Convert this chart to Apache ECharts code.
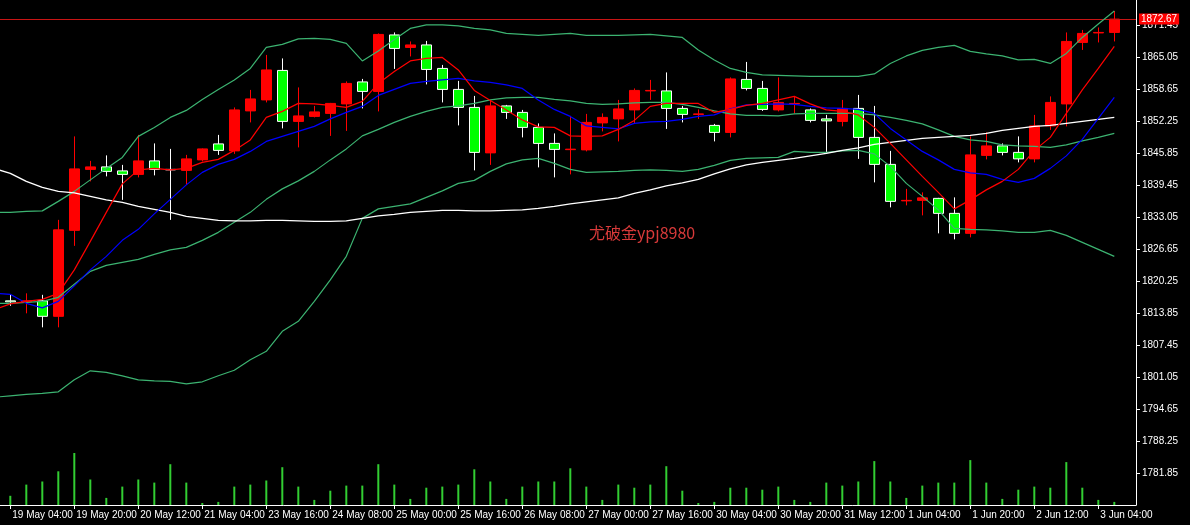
<!DOCTYPE html>
<html>
<head>
<meta charset="utf-8">
<script src="https://cdn.jsdelivr.net/npm/echarts@6/dist/echarts.min.js"></script>
<style>
html,body{margin:0;padding:0;background:#000;}
#c{width:1190px;height:525px;}
</style>
</head>
<body>
<div id="c"></div>
<script>
// Bar times (first bar is the partly hidden one at the left edge)
const categories = [
  '19 May 00:00',
  '19 May 04:00','19 May 08:00','19 May 12:00','19 May 16:00','19 May 20:00',
  '20 May 00:00','20 May 04:00','20 May 08:00','20 May 12:00','20 May 16:00','20 May 20:00',
  '21 May 00:00','21 May 04:00',
  '23 May 04:00','23 May 08:00','23 May 12:00','23 May 16:00','23 May 20:00',
  '24 May 00:00','24 May 04:00','24 May 08:00','24 May 12:00','24 May 16:00','24 May 20:00',
  '25 May 00:00','25 May 04:00','25 May 08:00','25 May 12:00','25 May 16:00','25 May 20:00',
  '26 May 00:00','26 May 04:00','26 May 08:00','26 May 12:00','26 May 16:00','26 May 20:00',
  '27 May 00:00','27 May 04:00','27 May 08:00','27 May 12:00','27 May 16:00','27 May 20:00',
  '28 May 00:00','28 May 04:00',
  '30 May 04:00','30 May 08:00','30 May 12:00','30 May 16:00','30 May 20:00',
  '31 May 00:00','31 May 04:00','31 May 08:00','31 May 12:00','31 May 16:00','31 May 20:00',
  '1 Jun 00:00','1 Jun 04:00','1 Jun 08:00','1 Jun 12:00','1 Jun 16:00','1 Jun 20:00',
  '2 Jun 00:00','2 Jun 04:00','2 Jun 08:00','2 Jun 12:00','2 Jun 16:00','2 Jun 20:00',
  '3 Jun 00:00','3 Jun 04:00','3 Jun 08:00'
];
const firstBar = -1;
// bars that carry a time label
const tickBars = [0,4,8,12,16,20,24,28,32,36,40,44,48,52,56,60,64,68];

const opens = [
  1823.3,1816.3,1816.1,1816.3,1813.2,1830.4,1842.6,1843.1,1842.3,1841.6,
  1844.3,1842.6,1842.4,1844.5,1847.7,1846.3,1854.3,1856.5,1862.4,1852.2,
  1853.2,1853.8,1855.7,1860.1,1858.2,1869.5,1867.0,1867.5,1862.8,1858.6,
  1855.0,1845.9,1855.3,1854.0,1851.0,1847.8,1846.55,1846.5,1851.9,1852.7,
  1854.5,1858.3,1858.3,1854.8,1853.6,1851.4,1850.0,1860.6,1858.8,1854.5,
  1855.7,1854.5,1852.7,1852.2,1854.8,1849.0,1843.6,1836.3,1836.4,1836.8,
  1833.8,1829.8,1845.4,1847.3,1846.0,1844.7,1851.3,1855.7,1868.0,1869.9,1870.0
];
const closes = [
  1816.5,1816.1,1816.3,1813.2,1830.5,1842.7,1843.1,1842.2,1841.6,1844.3,
  1842.6,1842.5,1844.7,1846.7,1846.4,1854.5,1856.7,1862.5,1852.2,1853.3,
  1854.1,1855.8,1859.8,1858.2,1869.6,1866.8,1867.5,1862.6,1858.6,1855.0,
  1846.0,1855.3,1854.0,1851.0,1847.8,1846.6,1846.65,1852.0,1853.0,1854.7,
  1858.4,1858.4,1854.8,1853.6,1853.7,1850.0,1860.7,1858.8,1854.6,1856.0,
  1855.8,1852.4,1852.3,1854.8,1849.0,1843.6,1836.2,1836.4,1836.9,1833.8,
  1829.8,1845.5,1847.3,1846.0,1844.7,1851.3,1856.0,1868.2,1869.8,1870.0,1872.67
];
const lows = [
  1815.8,1815.3,1813.8,1811.0,1811.0,1827.3,1840.2,1841.2,1836.5,1841.0,
  1841.4,1832.5,1839.5,1844.2,1845.5,1845.7,1852.0,1856.0,1850.8,1847.0,
  1853.0,1849.3,1850.3,1854.8,1854.2,1862.7,1865.2,1859.6,1856.0,1851.4,
  1842.4,1843.5,1852.7,1849.0,1843.0,1841.0,1841.6,1846.2,1850.2,1848.2,
  1851.8,1856.5,1850.7,1852.0,1852.7,1848.2,1849.0,1858.4,1854.3,1854.2,
  1853.8,1852.0,1846.0,1851.2,1844.7,1840.0,1835.0,1835.4,1833.4,1829.8,
  1828.6,1829.0,1844.6,1845.4,1844.0,1844.0,1850.5,1851.2,1866.5,1868.0,1868.2
];
const highs = [
  1824.0,1817.5,1817.8,1817.5,1832.5,1849.2,1844.3,1845.4,1843.5,1849.5,
  1847.8,1846.7,1845.5,1846.8,1849.5,1855.0,1858.5,1865.5,1864.8,1859.0,
  1855.3,1855.9,1860.2,1860.7,1869.8,1870.0,1868.2,1868.3,1863.5,1860.3,
  1857.3,1856.5,1855.5,1854.5,1851.8,1849.8,1853.3,1853.7,1853.8,1856.5,
  1858.8,1860.5,1862.0,1855.3,1854.6,1851.7,1861.0,1864.1,1860.3,1861.0,
  1857.2,1854.8,1853.5,1856.5,1857.5,1855.3,1846.3,1838.7,1838.0,1836.9,
  1837.0,1849.2,1850.0,1847.8,1849.2,1853.5,1857.2,1870.0,1870.5,1871.0,1874.3
];
const volumes = [
  1500,920,2040,2350,3370,5200,2550,710,1840,2550,
  2240,4080,2240,200,310,1840,2040,2450,3780,1840,
  510,1430,1940,1940,4080,2040,610,1730,1840,2040,
  3570,2350,610,1840,2350,2350,3670,1840,510,2040,
  1730,2040,3880,1430,200,310,1730,1730,1530,1840,
  510,310,2240,1940,2350,4390,2350,710,1940,2240,
  2240,4490,2240,610,1530,1840,1730,4290,1730,510,310
];
const maFast = [
  1814.5,1815.7,1816.2,1816.6,1817.8,1822.5,1828.2,1834.0,1839.7,1842.5,
  1842.8,1842.5,1842.8,1844.0,1844.6,1846.4,1848.5,1853.0,1854.2,1855.8,
  1855.7,1855.4,1855.0,1856.2,1859.8,1862.2,1864.3,1864.8,1865.0,1862.5,
  1858.4,1856.4,1854.5,1852.5,1851.1,1851.0,1849.3,1849.2,1849.3,1850.6,
  1852.4,1855.2,1855.8,1855.8,1855.8,1854.0,1854.6,1855.4,1855.8,1856.5,
  1857.2,1855.7,1854.5,1854.2,1853.5,1851.0,1847.8,1844.5,1841.2,1838.0,
  1834.7,1836.5,1838.5,1840.2,1842.6,1846.4,1849.0,1853.8,1858.5,1862.8,1867.2
];
const maMid = [
  1817.8,1817.6,1815.8,1814.9,1816.2,1819.3,1822.5,1825.2,1828.4,1830.6,
  1833.7,1836.6,1839.5,1842.0,1843.6,1844.6,1846.2,1848.2,1849.2,1850.2,
  1851.2,1852.7,1854.0,1855.2,1857.4,1858.6,1859.8,1860.2,1860.5,1860.8,
  1860.3,1860.0,1859.5,1858.8,1856.5,1854.6,1853.2,1851.3,1851.0,1850.7,
  1851.8,1852.1,1852.2,1852.6,1853.2,1853.5,1854.7,1855.5,1855.6,1855.7,
  1855.6,1855.2,1854.9,1854.8,1854.6,1853.8,1850.8,1848.5,1846.2,1844.5,
  1842.6,1841.9,1841.6,1840.6,1840.0,1840.8,1842.8,1845.3,1848.6,1852.8,1857.0
];
const maSlow = [
  1842.8,1841.8,1840.2,1839.0,1838.2,1837.9,1837.2,1836.5,1836.0,1835.2,
  1834.6,1834.0,1833.2,1832.8,1832.4,1832.3,1832.3,1832.4,1832.4,1832.3,
  1832.2,1832.2,1832.3,1832.8,1833.3,1833.6,1834.0,1834.2,1834.4,1834.4,
  1834.3,1834.3,1834.4,1834.5,1834.8,1835.2,1835.7,1836.1,1836.5,1836.9,
  1837.8,1838.5,1839.3,1839.9,1840.6,1841.7,1842.7,1843.5,1844.0,1844.4,
  1844.8,1845.3,1845.8,1846.4,1846.9,1847.6,1848.0,1848.4,1848.8,1849.0,
  1849.2,1849.4,1849.8,1850.4,1850.8,1851.2,1851.4,1851.8,1852.2,1852.6,1853.0
];
const bbUpper = [
  1834.0,1834.0,1834.2,1834.3,1836.2,1838.2,1840.5,1842.8,1845.0,1849.2,
  1851.0,1853.0,1854.4,1856.6,1858.6,1860.5,1862.8,1867.0,1867.6,1868.7,
  1868.8,1868.6,1867.8,1864.3,1866.3,1868.6,1870.8,1871.5,1871.5,1871.3,
  1870.8,1870.5,1869.8,1869.6,1869.4,1869.6,1869.8,1869.4,1869.4,1869.4,
  1869.5,1869.6,1869.3,1869.0,1866.5,1864.5,1862.8,1862.0,1861.5,1861.4,
  1861.3,1861.2,1861.2,1861.2,1861.2,1861.7,1863.8,1865.3,1866.4,1867.0,
  1867.4,1866.2,1865.7,1865.3,1864.5,1864.6,1863.8,1865.8,1869.0,1871.7,1874.3
];
const bbMiddle = [
  1815.8,1815.8,1816.0,1816.2,1817.0,1819.6,1822.2,1823.4,1824.0,1824.6,
  1825.6,1826.5,1827.0,1828.4,1830.0,1832.0,1834.0,1836.6,1838.7,1840.3,
  1842.2,1844.5,1846.7,1849.3,1850.6,1852.0,1853.2,1854.2,1855.0,1855.3,
  1855.8,1856.5,1856.9,1857.0,1857.0,1856.6,1856.3,1855.8,1855.6,1855.7,
  1855.9,1856.0,1856.0,1855.6,1855.0,1854.3,1853.7,1853.4,1853.4,1853.3,
  1853.7,1853.8,1853.8,1853.8,1853.8,1853.5,1853.0,1852.4,1851.7,1850.5,
  1849.2,1848.5,1848.2,1847.5,1847.3,1847.2,1847.0,1847.5,1848.3,1849.0,1849.8
];
const bbLower = [
  1797.0,1797.3,1797.6,1797.8,1798.1,1800.5,1802.3,1802.0,1801.3,1800.5,
  1800.3,1800.2,1799.7,1800.1,1801.3,1802.4,1804.5,1806.2,1810.2,1812.2,
  1816.2,1820.5,1825.2,1832.8,1834.7,1835.2,1835.7,1837.0,1838.3,1839.8,
  1840.4,1842.2,1843.7,1844.5,1844.8,1843.8,1842.6,1842.0,1842.1,1842.2,
  1842.4,1842.5,1842.4,1842.2,1842.6,1843.4,1844.4,1844.8,1844.9,1845.0,
  1846.2,1846.0,1846.0,1846.3,1846.4,1845.7,1843.2,1839.8,1837.2,1834.5,
  1830.8,1830.6,1830.5,1830.3,1830.0,1830.0,1830.4,1829.4,1828.0,1826.6,1825.2
];
const bidPrice = 1872.67;
const watermark = '尤破金ypj8980';

// ---- build ----
const xs = categories.map((_, k) => k + firstBar);
const candleData = xs.map((x, k) => [x, opens[k], closes[k], lows[k], highs[k]]);
const volData = xs.map((x, k) => [x, volumes[k]]);
const lineData = arr => xs.map((x, k) => [x, arr[k]]);
const font = 'Liberation Sans';

function lineSeries(name, arr, color, width) {
  return {
    name, type: 'line', data: lineData(arr), showSymbol: false, symbol: 'none',
    lineStyle: { color, width }, itemStyle: { color }, z: 5, silent: true, clip: true
  };
}

const chart = echarts.init(document.getElementById('c'), null, { renderer: 'canvas' });
chart.setOption({
  backgroundColor: '#000000',
  animation: false,
  textStyle: { fontFamily: font },
  grid: { left: 0, right: 54, top: 0, bottom: 20, containLabel: false },
  title: {
    text: watermark, left: 584, top: 220,
    textStyle: { color: '#d83a3a', fontSize: 16, fontWeight: 'normal', fontFamily: "'Noto Sans CJK SC', sans-serif" }
  },
  xAxis: {
    type: 'value', min: -0.644, max: 70.356,
    splitLine: { show: false },
    axisLine: { show: true, onZero: false, lineStyle: { color: '#ffffff', width: 1 } },
    axisTick: { show: true, customValues: tickBars, length: 4, lineStyle: { color: '#ffffff' } },
    axisLabel: {
      show: true, customValues: tickBars, color: '#ffffff', fontSize: 10, fontFamily: font,
      align: 'left', margin: 5, padding: [0, 0, 0, 2],
      formatter: v => categories[Math.round(v) - firstBar]
    }
  },
  yAxis: [
    {
      type: 'value', position: 'right', min: 1775.45, max: 1876.49, interval: 6.4,
      splitLine: { show: false },
      axisLine: { show: true, onZero: false, lineStyle: { color: '#ffffff', width: 1 } },
      axisTick: { show: true, length: 4, lineStyle: { color: '#ffffff' } },
      axisLabel: {
        color: '#ffffff', fontSize: 10, fontFamily: font, margin: 6,
        showMinLabel: false, showMaxLabel: false,
        formatter: v => v.toFixed(2)
      }
    },
    { type: 'value', min: 0, max: 50500, show: false }
  ],
  series: [
    {
      name: 'Volume', type: 'bar', yAxisIndex: 1, data: volData, barWidth: 2,
      itemStyle: { color: '#32cd32' }, silent: true, z: 1
    },
    {
      name: 'XAUUSD', type: 'candlestick', data: candleData,
      encode: { x: 0, y: [1, 2, 3, 4] },
      barWidth: 11, clip: true, z: 3,
      itemStyle: {
        color: '#ff0000', color0: '#00ff00',
        borderColor: '#ff0000', borderColor0: '#ffffff', borderWidth: 1
      },
      markLine: {
        silent: true, symbol: 'none', animation: false,
        lineStyle: { color: '#c81414', width: 1, type: 'solid' },
        label: {
          show: true, position: 'end', distance: 3,
          formatter: bidPrice.toFixed(2), color: '#ffffff',
          backgroundColor: '#ff0000', padding: [1, 2, 0, 2],
          fontSize: 10, fontFamily: font
        },
        data: [{ yAxis: bidPrice }]
      }
    },
    lineSeries('BB upper', bbUpper, '#3cb371', 1.2),
    lineSeries('BB middle', bbMiddle, '#3cb371', 1.2),
    lineSeries('BB lower', bbLower, '#3cb371', 1.2),
    lineSeries('MA slow', maSlow, '#ffffff', 1.4),
    lineSeries('MA mid', maMid, '#0000ff', 1.2),
    lineSeries('MA fast', maFast, '#ff0000', 1.2)
  ]
});
</script>
</body>
</html>
